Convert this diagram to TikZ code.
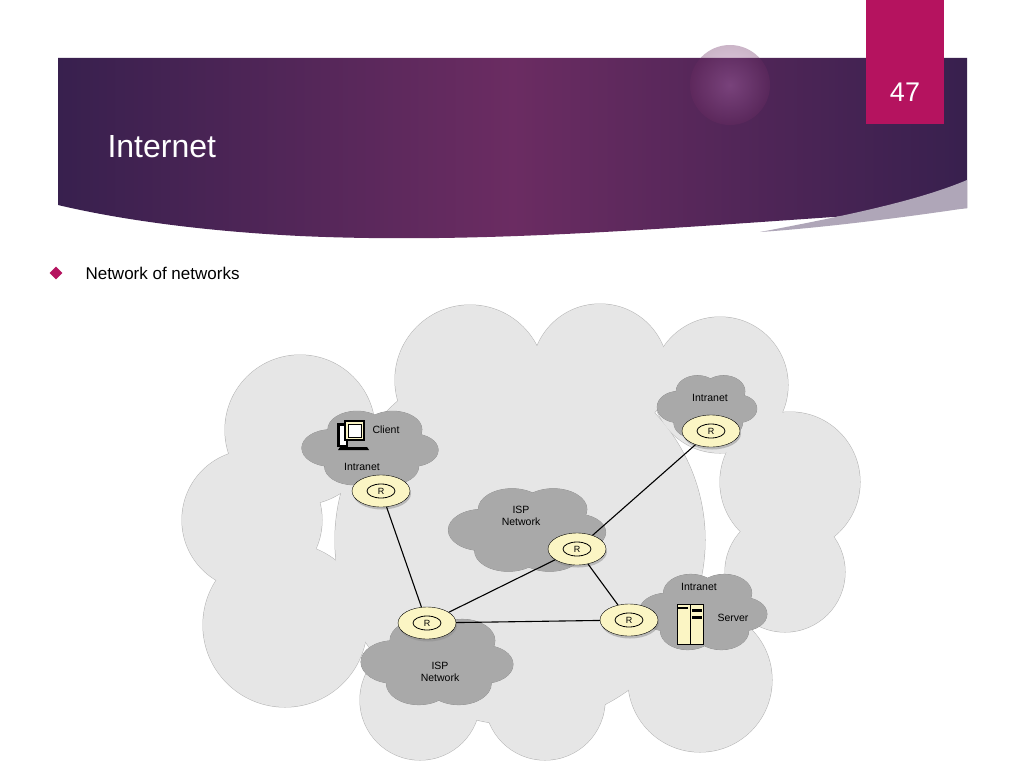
\documentclass[tikz,border=0pt]{standalone}
\usepackage{fontspec}
\setmainfont{Liberation Sans}
\usetikzlibrary{shapes.geometric,shadows}
\definecolor{bigc}{HTML}{E6E6E6}
\definecolor{bigo}{HTML}{B4B4B4}
\definecolor{smc}{HTML}{A9A9A9}
\definecolor{smo}{HTML}{8C8C8C}
\definecolor{rtr}{HTML}{FBF5C4}
\definecolor{mag}{HTML}{B5135F}
\definecolor{pdark}{HTML}{38204E}
\definecolor{pmid}{HTML}{6B2C62}
\tikzset{
  router/.style={ellipse,draw=black,fill=rtr,minimum width=58pt,minimum height=32pt,inner sep=0pt,
    drop shadow={shadow xshift=1pt,shadow yshift=-2.5pt,fill=black!45}},
  link/.style={line width=1.1pt,black},
  lbl/.style={font=\fontsize{10.5}{12}\selectfont,align=center,inner sep=0pt}
}
\newcommand{\rtrnode}[3]{\node[router] (#1) at (#2,#3) {};
  \draw[line width=0.8pt] (#1.center) ellipse (14pt and 7pt);
  \node[font=\fontsize{9}{10}\selectfont] at (#1.center) {R};}
\newcommand{\cloudshape}[1]{%
  \foreach \a/\b/\r in {-0.6/0/0.45,-0.2/-0.45/0.45,0.35/-0.45/0.45,0.65/0.05/0.4,0.3/0.45/0.45,-0.25/0.45/0.45,0/0/0.6}{#1 (\a,\b) circle (\r);}}
\newcommand{\smcloud}[4]{%
  \begin{scope}[shift={(#1,#2)},xscale=#3/2,yscale=#4/2]
  \cloudshape{\draw[smo,line width=0.6pt,fill=smc]}
  \cloudshape{\fill[smc]}
  \end{scope}}
\begin{document}
\begin{tikzpicture}[x=1pt,y=-1pt]
\useasboundingbox (0,0) rectangle (1024,768);
\fill[white] (0,0) rectangle (1024,768);
% banner
\shade[left color=pdark,right color=pdark,middle color=pmid] (58,58) -- (967,58) -- (967,208) .. controls (700,225) and (500,245) .. (300,236) .. controls (180,230) and (100,215) .. (58,205) -- cycle;
\shade[inner color=pmid!70!magenta!60!white,outer color=pmid,opacity=0.35] (730,85) circle (40);
\fill[white!60!pdark] (760,232) .. controls (850,215) and (920,200) .. (967,180) -- (967,208) .. controls (900,218) and (820,228) .. (760,232) -- cycle;
\fill[mag] (866,0) rectangle (944,124);
\node[white,font=\fontsize{27}{30}\selectfont] (num) at (905,92) {47};
\node[white,font=\fontsize{32}{36}\selectfont,anchor=west] (title) at (104,147) {Internet};
% bullet
\node[diamond,fill=mag,minimum width=13pt,minimum height=13pt,inner sep=0pt] (bul) at (56,273) {};
\node[anchor=west,font=\fontsize{17}{20}\selectfont] (b1) at (82,273) {Network of networks};
% big cloud
\def\bigc#1{\foreach \x/\y/\r in {300/430/75,470/380/75,600/372/68,720/385/68,790/482/70,785/572/60,700/680/72,545/700/60,420/700/60,285/625/82,252/520/70,520/540/185}{#1 (\x,\y) circle (\r);}}
\bigc{\draw[bigo,line width=1pt,fill=bigc]}
\bigc{\fill[bigc]}
% small clouds
\smcloud{370}{448}{130}{82}
\smcloud{707}{407}{95}{70}
\smcloud{527}{530}{150}{92}
\smcloud{437}{662}{145}{95}
\smcloud{703}{612}{122}{84}
% routers
\rtrnode{r1}{381}{491}
\rtrnode{r2}{577}{549}
\rtrnode{r3}{711}{431}
\rtrnode{r4}{427}{623}
\rtrnode{r5}{629}{620}
\draw[link] (r1) -- (r4);
\draw[link] (r4) -- (r2);
\draw[link] (r4) -- (r5);
\draw[link] (r2) -- (r5);
\draw[link] (r2) -- (r3);
% labels
\node[lbl] (lc) at (386,430) {Client};
\node[lbl] (li1) at (362,467) {Intranet};
\node[lbl] (li2) at (710,398) {Intranet};
\node[lbl] (isp1) at (521,516) {ISP\\Network};
\node[lbl] (li3) at (699,587) {Intranet};
\node[lbl] (srv) at (733,618) {Server};
\node[lbl] (isp2) at (440,672) {ISP\\Network};
% client icon
\fill[black] (337,423) rectangle (348,447);
\draw[black,fill=white,line width=0.8pt] (339,425) rectangle (346,445);
\draw[black,fill=rtr,line width=1.2pt] (345,421) rectangle (364,440);
\draw[black,fill=white,line width=0.8pt] (348,424) rectangle (361,437);
\fill[black] (340,447) -- (367,447) -- (369,450) -- (338,450) -- cycle;
% server icon
\draw[black,fill=rtr,line width=0.8pt] (677,604) rectangle (703,644);
\draw[black] (690,604) -- (690,644);
\fill[black] (678,607) rectangle (688,609);
\foreach \yy in {609,616}{\fill[black] (692,\yy) rectangle (702,\yy+3);}
\end{tikzpicture}
\end{document}
